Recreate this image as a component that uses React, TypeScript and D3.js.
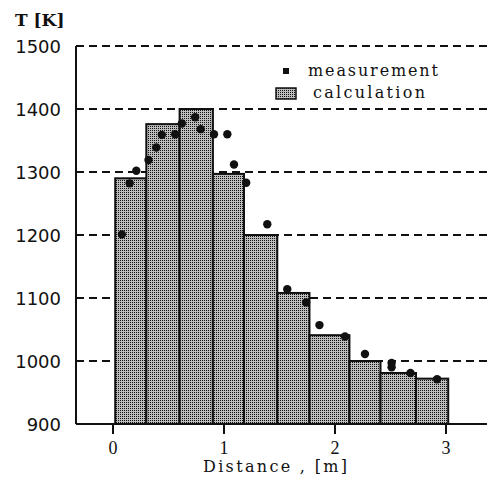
import React from "react";
import { scaleLinear } from "d3";

const yTicks = [900, 1000, 1100, 1200, 1300, 1400, 1500];
const gridValues = [1000, 1100, 1200, 1300, 1400, 1500];
const xTicks = [0, 1, 2, 3];

// calculation bars: edges in m, temperature in K
const barEdges = [0.02, 0.3, 0.6, 0.9, 1.18, 1.48, 1.77, 2.13, 2.41, 2.73, 3.02];
const barValues = [1290, 1376, 1400, 1297, 1200, 1108, 1041, 1000, 981, 972];

// measurement points
const pointDist = [
  0.08, 0.15, 0.21, 0.32, 0.39, 0.44, 0.56, 0.62, 0.74, 0.79, 0.91, 1.03, 1.09,
  1.2, 1.39, 1.57, 1.74, 1.86, 2.09, 2.27, 2.51, 2.51, 2.68, 2.92,
];
const pointTemp = [
  1201, 1282, 1302, 1319, 1339, 1359, 1360, 1377, 1387, 1368, 1360, 1360, 1312,
  1283, 1217, 1114, 1093, 1057, 1039, 1011, 997, 990, 981, 971,
];

const W = 488;
const H = 477;

const App = () => {
  const x = scaleLinear().domain([0, 3]).range([113, 446]);
  const y = scaleLinear().domain([900, 1500]).range([424, 46]);
  const axisLeft = 76;
  const axisRight = 487;

  return (
    <svg
      width={W}
      height={H}
      style={{ position: "absolute", left: 0, top: 0, background: "white" }}
    >
      <defs>
        <pattern id="dither" width={2} height={2} patternUnits="userSpaceOnUse">
          <rect width={2} height={2} fill="#bdbdbd" />
          <rect width={1} height={1} fill="#111" />
        </pattern>
      </defs>

      {/* dashed grid */}
      {gridValues.map((v) => (
        <line
          key={v}
          x1={axisLeft}
          x2={axisRight}
          y1={y(v)}
          y2={y(v)}
          stroke="#111"
          strokeWidth={2}
          strokeDasharray="8,5"
        />
      ))}

      {/* bars */}
      {barValues.map((v, i) => (
        <rect
          key={i}
          x={x(barEdges[i])}
          y={y(v)}
          width={x(barEdges[i + 1]) - x(barEdges[i])}
          height={y(900) - y(v)}
          fill="url(#dither)"
          stroke="#111"
          strokeWidth={2}
        />
      ))}

      {/* points */}
      {pointDist.map((d, i) => (
        <circle key={i} cx={x(d)} cy={y(pointTemp[i])} r={4.2} fill="#111" />
      ))}

      {/* axes */}
      <line x1={axisLeft} x2={axisLeft} y1={y(1500)} y2={y(900)} stroke="#111" strokeWidth={2} />
      <line x1={axisLeft} x2={axisRight} y1={y(900)} y2={y(900)} stroke="#111" strokeWidth={2} />
      {xTicks.map((t) => (
        <g key={t}>
          <line x1={x(t)} x2={x(t)} y1={y(900)} y2={y(900) + 10} stroke="#111" strokeWidth={2} />
          <text
            x={x(t)}
            y={454}
            textAnchor="middle"
            fontFamily="Liberation Serif"
            fontSize={18}
            fill="#111"
          >
            {t}
          </text>
        </g>
      ))}
      {yTicks.map((t) => (
        <text
          key={t}
          x={61}
          y={y(t) + 7}
          textAnchor="end"
          fontFamily="DejaVu Sans"
          fontSize={18}
          fill="#111"
        >
          {t}
        </text>
      ))}

      {/* axis titles */}
      <text x={15} y={26} fontFamily="DejaVu Serif" fontWeight="bold" fontSize={17} fill="#111">
        T [K]
      </text>
      <text
        x={203}
        y={472}
        fontFamily="DejaVu Serif"
        fontSize={16}
        fill="#111"
        textLength={144}
        lengthAdjust="spacing"
      >
        Distance , [m]
      </text>

      {/* legend */}
      <rect x={283} y={68} width={6} height={6} fill="#111" />
      <text
        x={308}
        y={76}
        fontFamily="DejaVu Serif"
        fontSize={16}
        fill="#111"
        textLength={130}
        lengthAdjust="spacing"
      >
        measurement
      </text>
      <rect x={276} y={88} width={20} height={11} fill="url(#dither)" stroke="#111" strokeWidth={1.5} />
      <text
        x={313}
        y={98}
        fontFamily="DejaVu Serif"
        fontSize={16}
        fill="#111"
        textLength={112}
        lengthAdjust="spacing"
      >
        calculation
      </text>
    </svg>
  );
};

export default App;
